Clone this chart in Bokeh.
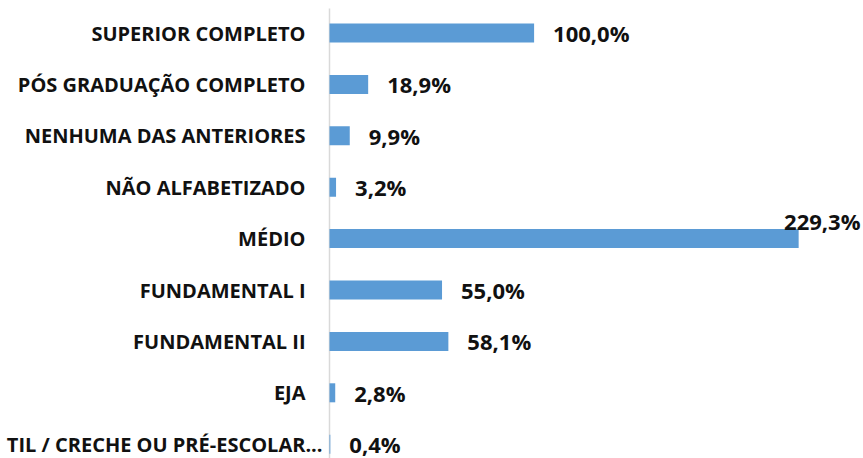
from bokeh.plotting import figure
from bokeh.models import ColumnDataSource, Range1d
from bokeh.core.properties import value
from bokeh.embed import file_html
from bokeh.resources import INLINE

categories = [
    "SUPERIOR COMPLETO",
    "PÓS GRADUAÇÃO COMPLETO",
    "NENHUMA DAS ANTERIORES",
    "NÃO ALFABETIZADO",
    "MÉDIO",
    "FUNDAMENTAL I",
    "FUNDAMENTAL II",
    "EJA",
    "TIL / CRECHE OU PRÉ-ESCOLAR...",
]
values = [100.0, 18.9, 9.9, 3.2, 229.3, 55.0, 58.1, 2.8, 0.4]

n = len(categories)
ypos = [n - 1 - i for i in range(n)]
labels = [f"{v:.1f}".replace(".", ",") + "%" for v in values]

W, H = 863, 458
px_per_unit = 2.046
axis_px = 329
row_px = 51.4
top_px = 32.5
x_start = -axis_px / px_per_unit
x_end = (W - axis_px) / px_per_unit
y_top = (n - 1) + top_px / row_px
y_bottom = y_top - H / row_px

FONT = value("Open Sans")

# category label offsets (the truncated last label sits closer to the axis)
cat_offsets = [-24] * n
cat_offsets[-1] = -7

max_i = values.index(max(values))
normal = [i for i in range(n) if i != max_i]

src = ColumnDataSource(dict(y=ypos, v=values, cat=categories, off=cat_offsets))
src_norm = ColumnDataSource(dict(y=[ypos[i] for i in normal], v=[values[i] for i in normal],
                                 lab=[labels[i] for i in normal]))
src_max = ColumnDataSource(dict(y=[ypos[max_i]], v=[x_end], lab=[labels[max_i]]))

p = figure(width=W, height=H, output_backend="svg", toolbar_location=None,
           x_range=Range1d(x_start, x_end), y_range=Range1d(y_bottom, y_top),
           x_axis_location=None, y_axis_location=None, min_border=0,
           outline_line_color=None, background_fill_color="white", border_fill_color="white")
p.xgrid.visible = False
p.ygrid.visible = False

# vertical category axis line
p.segment(x0=[0], x1=[0], y0=[y_top - 8 / row_px], y1=[y_bottom],
          line_color="#d9d9d9", line_width=1.5)

p.hbar(y="y", right="v", left=0, height=0.37, source=src, color="#5b9bd5", line_color=None)

p.text(x=0, y="y", text="cat", source=src, x_offset="off", text_align="right",
       text_baseline="middle", text_font=FONT, text_font_style="bold",
       text_font_size="20px", text_color="#111111")

p.text(x="v", y="y", text="lab", source=src_norm, x_offset=19, y_offset=0, text_align="left",
       text_baseline="middle", text_font=FONT, text_font_style="bold",
       text_font_size="22px", text_color="#111111")

p.text(x="v", y="y", text="lab", source=src_max, x_offset=-3, y_offset=-18, text_align="right",
       text_baseline="middle", text_font=FONT, text_font_style="bold",
       text_font_size="22px", text_color="#111111")

open("out.html", "w").write(file_html(p, INLINE))
